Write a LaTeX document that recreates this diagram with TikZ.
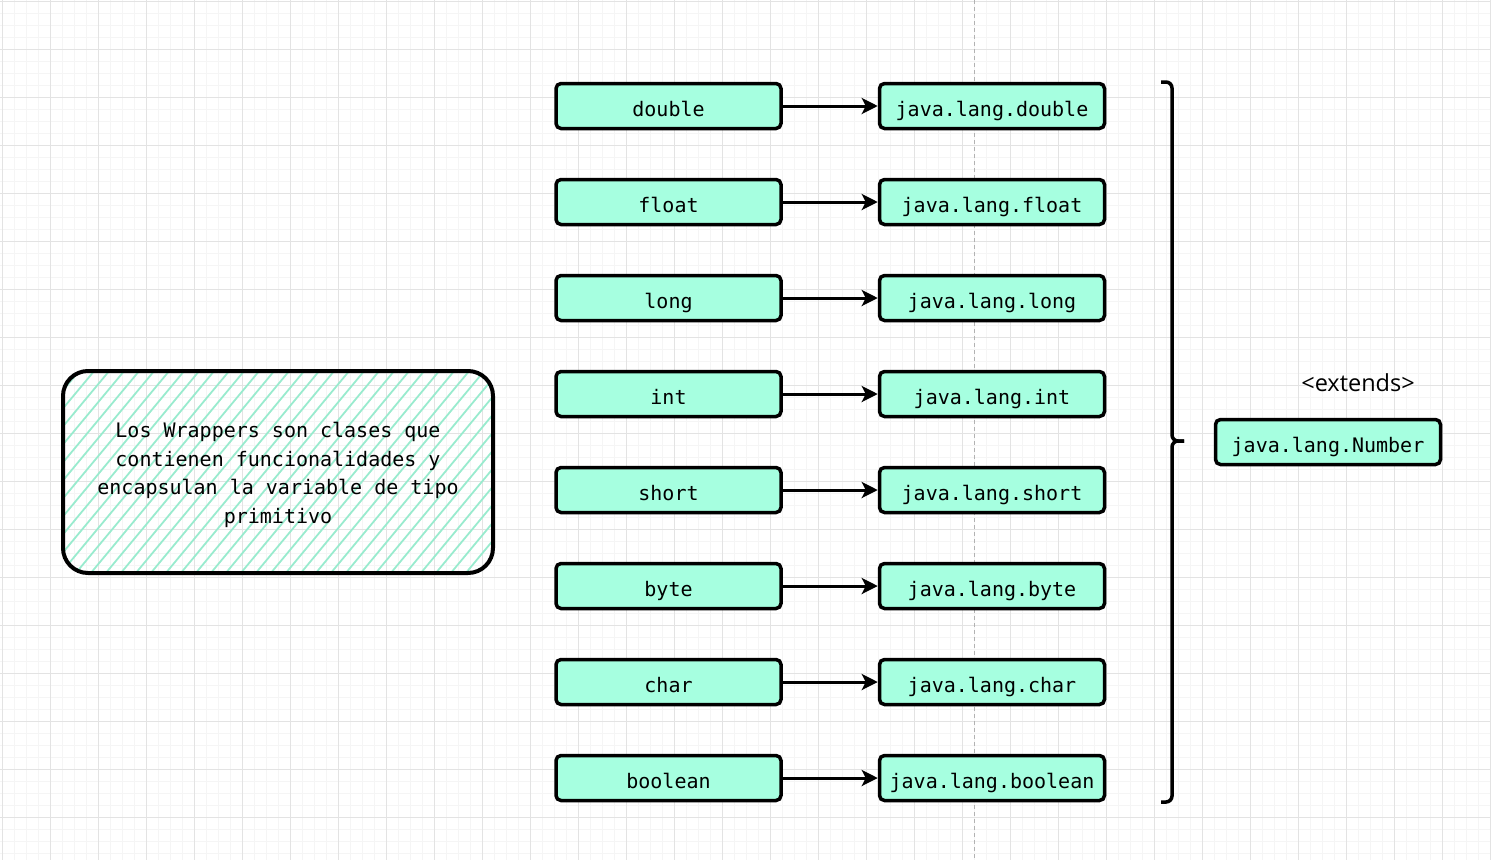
\documentclass[tikz,border=0pt]{standalone}
\usepackage{fontspec}
\setmainfont{Open Sans}
\setmonofont{DejaVu Sans Mono}
\usetikzlibrary{positioning,arrows.meta}

\definecolor{mint}{HTML}{A6FFE0}
\definecolor{gridmajor}{HTML}{E3E3E3}
\definecolor{gridminor}{HTML}{F5F5F5}

\begin{document}
\begin{tikzpicture}[x=1pt,y=-1pt,
    wrapbox/.style={draw,line width=3.5pt,rounded corners=5pt,fill=mint,
        minimum width=225pt,minimum height=45pt,inner sep=0pt,
        text height=20pt,text depth=0pt,
        font=\ttfamily\fontsize{20}{24}\selectfont},
    conn/.style={draw,line width=3pt,-{Stealth[length=16pt,width=16pt,inset=4pt]}},
    hatch/.style={draw=mint!92!black,line width=1.8pt}]
    \useasboundingbox (0,0) rectangle (1491,860);

    % fondo cuadriculado
    \foreach \x in {2,14,...,1490} {
        \draw[gridminor,line width=1pt] (\x,0) -- (\x,860); }
    \foreach \y in {1,13,...,860} {
        \draw[gridminor,line width=1pt] (0,\y) -- (1491,\y); }
    \foreach \x in {2,50,...,1490} {
        \draw[gridmajor,line width=1pt] (\x,0) -- (\x,860); }
    \foreach \y in {1,49,...,860} {
        \draw[gridmajor,line width=1pt] (0,\y) -- (1491,\y); }
    \draw[gray!60,line width=1pt,dash pattern=on 4pt off 3pt] (974,0) -- (974,860);

    % primitivos y sus wrappers
    \foreach \prim [count=\row from 0] in {double,float,long,int,short,byte,char,boolean} {
        \node[wrapbox] (p\row) at (668.5,{106+96*\row}) {\prim};
        \node[wrapbox] (w\row) at (992,{106+96*\row}) {java.lang.\prim};
        \draw[conn] (p\row) -- (w\row);
    }

    % llave
    \coordinate (bt) at (1161,82);
    \coordinate (bm) at (1184,441);
    \coordinate (bb) at (1161,802);
    \draw[line width=3.5pt,rounded corners=6pt] (bt) -- (1172,82) -- (1172,441) -- (bm);
    \draw[line width=3.5pt,rounded corners=6pt] (bm) -- (1172,441) -- (1172,802) -- (bb);

    \node[wrapbox] (num) at (1328,442) {java.lang.Number};
    \node[font=\fontsize{23.5}{26}\selectfont] (ext) at (1358,383) {<extends>};

    % nota rayada
    \begin{scope}
        \clip[rounded corners=25pt] (62,370) rectangle (494,574);
        \foreach \x in {-110,-95,...,500} {
            \draw[hatch] (\x,580) -- ++(175,-210); }
    \end{scope}
    \node[draw,line width=4pt,rounded corners=25pt,minimum width=430pt,minimum height=202pt] (nota) at (278,472) {};
    \node[align=center,font=\ttfamily\fontsize{20}{28.7}\selectfont] (notatxt) at ([yshift=-3pt]nota.center)
        {Los Wrappers son clases que\\contienen funcionalidades y\\encapsulan la variable de tipo\\primitivo};
\end{tikzpicture}
\end{document}
